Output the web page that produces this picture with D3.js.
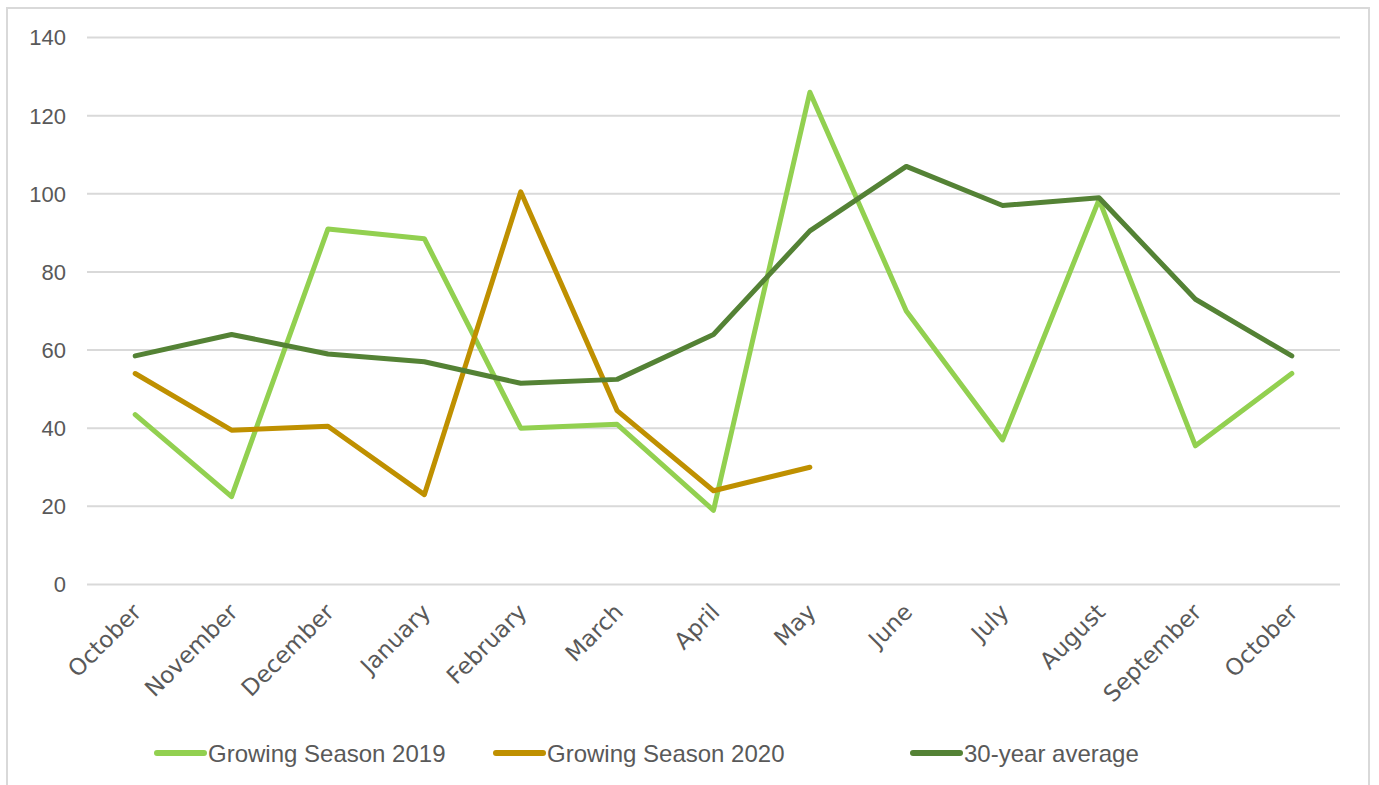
<!doctype html>
<html lang="en">
<head>
    <title></title>
    <script src="https://d3js.org/d3.v7.min.js"></script>
    <style type="text/css">
    body { margin: 0; background: #fff; }
    text { font-family: "Liberation Sans", Arial, sans-serif; fill: #595959; }
    </style>
</head>

<body>
</body>

<script type="text/javascript">

    var months = ["October", "November", "December", "January", "February", "March", "April",
                  "May", "June", "July", "August", "September", "October"];

    var season2019 = [43.5, 22.5, 91, 88.5, 40, 41, 19, 126, 70, 37, 98.5, 35.5, 54];
    var season2020 = [54, 39.5, 40.5, 23, 100.5, 44.5, 24, 30];
    var average30  = [58.5, 64, 59, 57, 51.5, 52.5, 64, 90.5, 107, 97, 99, 73, 58.5];

    var yTicks = [0, 20, 40, 60, 80, 100, 120, 140];

    var series = [
      {name: "Growing Season 2019", values: season2019, color: "#92d050"},
      {name: "Growing Season 2020", values: season2020, color: "#bf9000"},
      {name: "30-year average",     values: average30,  color: "#548235"}
    ];

    var W = 1379, H = 785;
    var margin = {top: 37.5, left: 87, right: 39, bottom: 200.5};
    var width  = W - margin.left - margin.right;
    var height = H - margin.top - margin.bottom;

    var svg = d3.select("body")
      .append("svg")
      .attr("width", W)
      .attr("height", H);

    // chart frame
    svg.append("rect")
      .attr("x", 7).attr("y", 8)
      .attr("width", 1362).attr("height", 790)
      .attr("fill", "none")
      .attr("stroke", "#d9d9d9")
      .attr("stroke-width", 2);

    var g = svg.append("g")
      .attr("transform", "translate(" + margin.left + "," + margin.top + ")");

    // index-based x so the two Octobers stay apart
    var xScale = d3.scalePoint()
      .domain(d3.range(months.length))
      .range([0, width])
      .padding(0.5);

    var yScale = d3.scaleLinear()
      .domain([0, 140])
      .range([height, 0]);

    // gridlines
    g.selectAll(".grid")
      .data(yTicks)
      .enter()
      .append("line")
      .attr("x1", 0).attr("x2", width)
      .attr("y1", d => yScale(d)).attr("y2", d => yScale(d))
      .attr("stroke", "#d9d9d9")
      .attr("stroke-width", 2);

    // y labels
    g.selectAll(".ylab")
      .data(yTicks)
      .enter()
      .append("text")
      .attr("x", -21)
      .attr("y", d => yScale(d))
      .attr("dy", "0.36em")
      .attr("text-anchor", "end")
      .style("font-size", "22px")
      .text(d => d);

    // x labels
    g.selectAll(".xlab")
      .data(d3.range(months.length))
      .enter()
      .append("text")
      .attr("transform", d => "translate(" + (xScale(d) + 7.5) + "," + (height + 29) + ") rotate(-45)")
      .attr("text-anchor", "end")
      .style("font-family", "'DejaVu Sans', sans-serif")
      .style("font-size", "23px")
      .text(d => months[d]);

    var line = d3.line()
      .x((d, i) => xScale(i))
      .y(d => yScale(d));

    g.selectAll(".series")
      .data(series)
      .enter()
      .append("path")
      .attr("d", d => line(d.values))
      .attr("fill", "none")
      .attr("stroke", d => d.color)
      .attr("stroke-width", 5)
      .attr("stroke-linejoin", "round")
      .attr("stroke-linecap", "round");

    // legend
    var legendX = [157, 496, 913];
    var legend = svg.selectAll(".legend")
      .data(series)
      .enter()
      .append("g")
      .attr("transform", (d, i) => "translate(" + legendX[i] + ",753)");

    legend.append("line")
      .attr("x1", 0).attr("x2", 47)
      .attr("stroke", d => d.color)
      .attr("stroke-width", 6)
      .attr("stroke-linecap", "round");

    legend.append("text")
      .attr("x", 51)
      .attr("dy", "0.36em")
      .style("font-size", "24px")
      .text(d => d.name);

</script>
</html>
